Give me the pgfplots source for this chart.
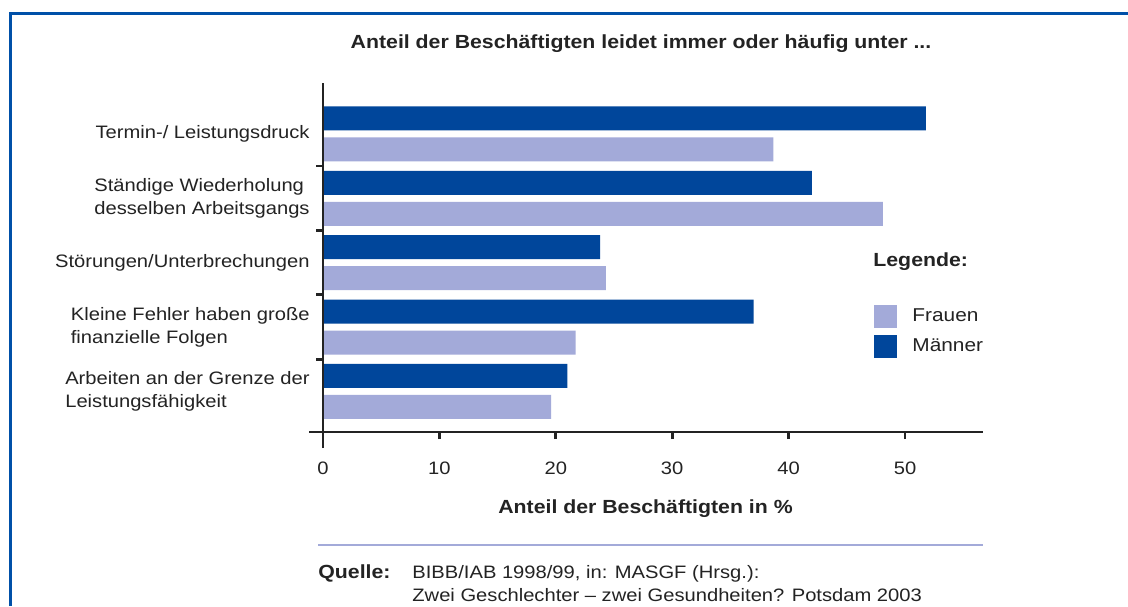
\documentclass[border=0pt]{standalone}
\usepackage{pgfplots}
\pgfplotsset{compat=1.18}
\usepackage{fontspec}
\setmainfont{Liberation Sans}[FakeStretch=1.12]
\definecolor{maenner}{RGB}{0,70,155}
\definecolor{frauen}{RGB}{163,170,217}
\definecolor{framec}{RGB}{0,80,168}
\definecolor{txt}{RGB}{35,35,35}
\begin{document}
\begin{tikzpicture}[font=\fontsize{9}{11}\selectfont, color=txt]
\useasboundingbox (0,0) rectangle (564pt,-303pt);
\fill[white] (0,0) rectangle (564pt,-303pt);
\draw[framec, line width=1.5pt] (5.25pt,-303pt) -- (5.25pt,-6.75pt) -- (564pt,-6.75pt);
\node[anchor=base, inner sep=0pt, font=\fontsize{9.5}{11}\selectfont\bfseries] at (320.5pt,-24pt) {Anteil der Beschäftigten leidet immer oder häufig unter ...};
\begin{axis}[
  at={(154.5pt,-216pt)}, anchor=south west,
  scale only axis, width=337pt, height=174.5pt,
  xmin=-1.2, xmax=56.7, ymin=-0.63, ymax=4.79,
  axis line style={draw=none},
  clip=false,
  xtick={0,10,...,50},
  xtick pos=bottom, ytick pos=left,
  tick align=outside,
  x tick style={line width=1.4pt, color=txt},
  major tick length=3.5pt,
  /pgf/number format/assume math mode=true,
  xticklabel style={anchor=base, inner sep=0pt, yshift=-17.75pt, font=\fontsize{9}{11}\selectfont, color=txt},
  ytick={0,1,2,3,4},
  y tick style={draw=none},
  yticklabels={{Arbeiten an der Grenze der\\Leistungsfähigkeit}, {Kleine Fehler haben große\\finanzielle Folgen}, {Störungen/Unterbrechungen}, {Ständige Wiederholung\\desselben Arbeitsgangs}, {Termin-/ Leistungsdruck}},
  yticklabel style={anchor=east, align=left, inner sep=0pt, xshift=4pt, font=\fontsize{9}{11.5}\selectfont, color=txt},
  legend style={draw=none, fill=none, at={(axis cs:47.34,1.36)}, anchor=north west, inner sep=0pt, row sep=3.5pt, column sep=5.5pt, font=\fontsize{9.3}{11}\selectfont, text=txt},
  legend cell align=left,
]
\addplot[xbar, bar width=12pt, bar shift=-7.75pt, fill=frauen, draw=none,
  legend image code/.code={\fill[frauen] (0pt,-5.75pt) rectangle (11.5pt,5.75pt);}]
  coordinates {(19.6,0) (21.7,1) (24.3,2) (48.1,3) (38.7,4)};
\addlegendentry{Frauen}
\addplot[xbar, bar width=12pt, bar shift=7.75pt, fill=maenner, draw=none,
  legend image code/.code={\fill[maenner] (0pt,-5.75pt) rectangle (11.5pt,5.75pt);}]
  coordinates {(21.0,0) (37.0,1) (23.8,2) (42.0,3) (51.8,4)};
\addlegendentry{Männer}
\draw[txt, line width=1.3pt] (axis cs:-1.2,-0.63) -- (axis cs:56.7,-0.63);
\draw[txt, line width=1.3pt] (axis cs:0,-0.88) -- (axis cs:0,4.79);
\draw[txt, line width=1.4pt] (axis cs:0,0.5) -- ([xshift=-3.5pt]axis cs:0,0.5);
\draw[txt, line width=1.4pt] (axis cs:0,1.5) -- ([xshift=-3.5pt]axis cs:0,1.5);
\draw[txt, line width=1.4pt] (axis cs:0,2.5) -- ([xshift=-3.5pt]axis cs:0,2.5);
\draw[txt, line width=1.4pt] (axis cs:0,3.5) -- ([xshift=-3.5pt]axis cs:0,3.5);
\end{axis}
\node[anchor=base west, inner sep=0pt, font=\fontsize{9.5}{11}\selectfont\bfseries] at (436.5pt,-133pt) {Legende:};
\node[anchor=base, inner sep=0pt, font=\fontsize{9.5}{11}\selectfont\bfseries] at (322.75pt,-256.75pt) {Anteil der Beschäftigten in \%};
\draw[frauen, line width=1pt] (159pt,-272.5pt) -- (491.5pt,-272.5pt);
\node[anchor=base west, inner sep=0pt, font=\fontsize{9.5}{11}\selectfont\bfseries] at (159pt,-289.25pt) {Quelle:};
\node[anchor=base west, inner sep=0pt] at (206pt,-289.25pt) {BIBB/IAB 1998/99, in: MASGF (Hrsg.):};
\node[anchor=base west, inner sep=0pt] at (206pt,-300.75pt) {Zwei Geschlechter -- zwei Gesundheiten? Potsdam 2003};
\end{tikzpicture}
\end{document}
